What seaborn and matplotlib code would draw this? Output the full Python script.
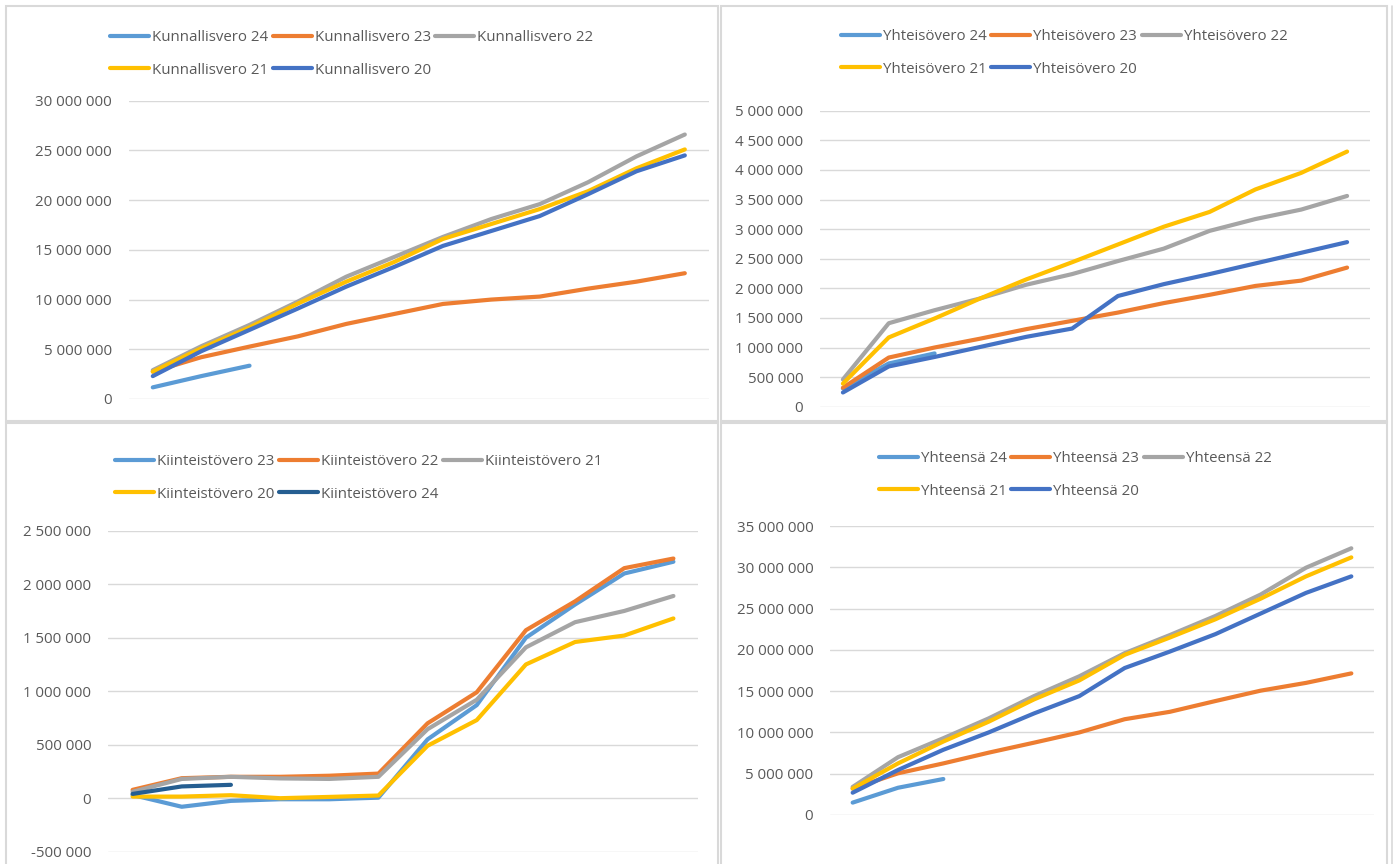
import pandas as pd
import matplotlib
matplotlib.use("Agg")
import matplotlib.pyplot as plt
import seaborn as sns
from matplotlib.patches import Rectangle
from matplotlib.lines import Line2D

W, H = 1397, 864

months = list(range(1, 13))

# Kunnallisvero (EUR, kumulatiivinen)
kunn_24 = [1170000, 2300000, 3350000]
kunn_23 = [2750000, 4200000, 5270000, 6300000, 7550000, 8560000, 9560000, 10000000, 10300000, 11100000, 11800000, 12650000]
kunn_22 = [2900000, 5300000, 7450000, 9800000, 12300000, 14300000, 16300000, 18100000, 19600000, 21800000, 24400000, 26600000]
kunn_21 = [2750000, 5100000, 7200000, 9600000, 11800000, 13800000, 16100000, 17600000, 19100000, 20900000, 23200000, 25100000]
kunn_20 = [2300000, 4800000, 6950000, 9100000, 11300000, 13300000, 15400000, 16900000, 18400000, 20600000, 22900000, 24500000]

# Yhteisövero
yht_24 = [310000, 730000, 900000]
yht_23 = [320000, 830000, 1000000, 1150000, 1310000, 1450000, 1590000, 1750000, 1890000, 2040000, 2130000, 2350000]
yht_22 = [460000, 1410000, 1630000, 1830000, 2060000, 2240000, 2460000, 2670000, 2970000, 3170000, 3330000, 3560000]
yht_21 = [390000, 1170000, 1490000, 1830000, 2150000, 2440000, 2740000, 3040000, 3290000, 3670000, 3950000, 4310000]
yht_20 = [240000, 680000, 840000, 1010000, 1180000, 1320000, 1870000, 2070000, 2240000, 2420000, 2600000, 2780000]

# Kiinteistövero
kiin_23 = [30000, -80000, -25000, -10000, -10000, 5000, 550000, 870000, 1500000, 1810000, 2100000, 2210000]
kiin_22 = [78000, 187000, 200000, 200000, 210000, 230000, 700000, 990000, 1570000, 1840000, 2150000, 2240000]
kiin_21 = [60000, 180000, 200000, 185000, 180000, 200000, 645000, 920000, 1410000, 1645000, 1750000, 1890000]
kiin_20 = [15000, 15000, 28000, 0, 12000, 25000, 490000, 730000, 1250000, 1460000, 1520000, 1680000]
kiin_24 = [40000, 110000, 125000]

# Yhteensä
tot_24 = [1500000, 3300000, 4360000]
tot_23 = [3200000, 5050000, 6250000, 7550000, 8760000, 10000000, 11600000, 12500000, 13800000, 15060000, 16000000, 17150000]
tot_22 = [3400000, 7000000, 9300000, 11700000, 14400000, 16800000, 19600000, 21800000, 24100000, 26700000, 29950000, 32300000]
tot_21 = [3200000, 6250000, 8900000, 11300000, 14000000, 16300000, 19400000, 21500000, 23700000, 26200000, 28900000, 31200000]
tot_20 = [2700000, 5450000, 7900000, 10000000, 12300000, 14400000, 17800000, 19800000, 21900000, 24400000, 26900000, 28900000]

LBLUE, ORANGE, GRAY, YELLOW, BLUE, DBLUE = "#5B9BD5", "#ED7D31", "#A5A5A5", "#FFC000", "#4472C4", "#255E91"

sns.set_theme(style="white")
plt.rcParams["font.family"] = ["Open Sans", "DejaVu Sans"]

fig = plt.figure(figsize=(W / 100, H / 100), dpi=100)
fig.patch.set_facecolor("white")


def fmt(v, pos=None):
    return f"{int(round(v)):,}".replace(",", " ")


def px_axes(left, right, top, bottom):
    return fig.add_axes([left / W, 1 - bottom / H, (right - left) / W, (bottom - top) / H])


def panel(box, series, colors, ylim, step, leg_xy):
    ax = px_axes(*box)
    rows = []
    for name, vals in series:
        for m, v in zip(months, vals):
            rows.append({"kk": m, "arvo": v, "sarja": name})
    df = pd.DataFrame(rows)
    names = [n for n, _ in series]
    sns.lineplot(data=df, x="kk", y="arvo", hue="sarja", hue_order=names,
                 palette=dict(zip(names, colors)), linewidth=3.0, legend=False,
                 solid_capstyle="round", solid_joinstyle="round", ax=ax)
    ax.set_xlim(0.5, 12.5)
    ax.set_ylim(*ylim)
    ticks = list(range(int(ylim[0]), int(ylim[1]) + 1, int(step)))
    ax.set_yticks(ticks)
    ax.yaxis.set_major_formatter(plt.FuncFormatter(fmt))
    ax.set_xticks([])
    ax.set_xlabel("")
    ax.set_ylabel("")
    ax.tick_params(axis="y", length=0, pad=12, labelsize=10.8, labelcolor="#595959")
    ax.grid(axis="y", color="#D9D9D9", linewidth=1.0)
    ax.set_axisbelow(True)
    for s in ax.spines.values():
        s.set_visible(False)
    ax.patch.set_alpha(0)
    handles = [Line2D([], [], color=c, linewidth=3.0, solid_capstyle="round") for c in colors]
    order = [0, 3, 1, 4, 2]
    ax.legend([handles[i] for i in order], [names[i] for i in order], ncol=3,
              loc="upper left", bbox_to_anchor=(leg_xy[0] / W, 1 - leg_xy[1] / H),
              bbox_transform=fig.transFigure, frameon=False, fontsize=10.8,
              labelcolor="#595959", handlelength=2.6, handletextpad=0.2,
              columnspacing=0.3, labelspacing=1.18, borderpad=0, borderaxespad=0)
    return ax


# panel borders
for (l, t, r, b) in [(6, 6, 718, 421), (721, 6, 1387, 421), (6, 423, 718, 870), (721, 423, 1387, 870)]:
    fig.add_artist(Rectangle((l / W, 1 - b / H), (r - l) / W, (b - t) / H, transform=fig.transFigure,
                             fill=False, edgecolor="#D9D9D9", linewidth=1.5))
fig.add_artist(Line2D([1392 / W, 1392 / W], [0, 1 - 6 / H], transform=fig.transFigure,
                      color="#D9D9D9", linewidth=1.2))

panel((128.6, 709, 100.7, 399),
      [("Kunnallisvero 24", kunn_24), ("Kunnallisvero 23", kunn_23), ("Kunnallisvero 22", kunn_22),
       ("Kunnallisvero 21", kunn_21), ("Kunnallisvero 20", kunn_20)],
      [LBLUE, ORANGE, GRAY, YELLOW, BLUE], (0, 30000000), 5000000, (110, 30))

panel((820, 1370, 110.7, 406.7),
      [("Yhteisövero 24", yht_24), ("Yhteisövero 23", yht_23), ("Yhteisövero 22", yht_22),
       ("Yhteisövero 21", yht_21), ("Yhteisövero 20", yht_20)],
      [LBLUE, ORANGE, GRAY, YELLOW, BLUE], (0, 5000000), 500000, (841, 29))

panel((108, 698, 530.7, 851.7),
      [("Kiinteistövero 23", kiin_23), ("Kiinteistövero 22", kiin_22), ("Kiinteistövero 21", kiin_21),
       ("Kiinteistövero 20", kiin_20), ("Kiinteistövero 24", kiin_24)],
      [LBLUE, ORANGE, GRAY, YELLOW, DBLUE], (-500000, 2500000), 500000, (115, 454))

panel((830, 1374, 526, 815),
      [("Yhteensä 24", tot_24), ("Yhteensä 23", tot_23), ("Yhteensä 22", tot_22),
       ("Yhteensä 21", tot_21), ("Yhteensä 20", tot_20)],
      [LBLUE, ORANGE, GRAY, YELLOW, BLUE], (0, 35000000), 5000000, (879, 451))

fig.savefig("out.png", dpi=100, facecolor="white")
